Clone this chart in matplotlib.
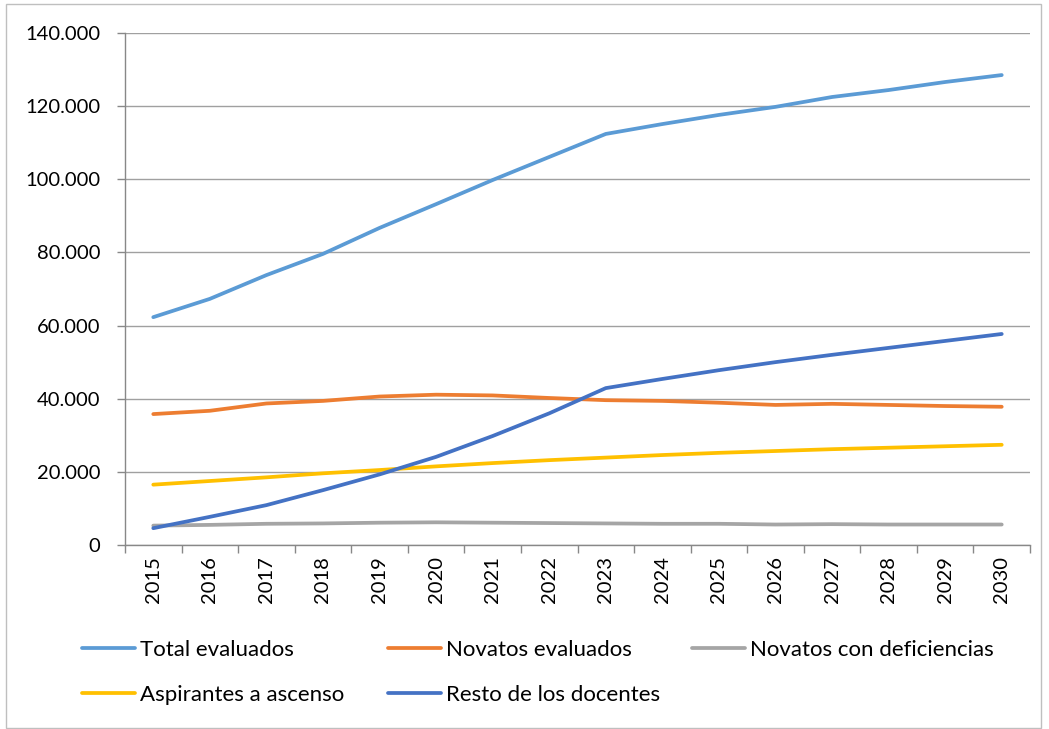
import matplotlib.pyplot as plt
from matplotlib.patches import Rectangle
from matplotlib.ticker import FuncFormatter, FixedLocator

plt.rcParams['font.family'] = ['Lato', 'DejaVu Sans']

years = [str(y) for y in range(2015, 2031)]

total_evaluados = [62300, 67300, 73800, 79600, 86700, 93200, 99800, 106100,
                   112400, 115100, 117600, 119800, 122500, 124400, 126600, 128500]
novatos_evaluados = [35800, 36700, 38700, 39400, 40600, 41100, 40900, 40200,
                     39600, 39400, 38900, 38300, 38600, 38300, 38000, 37800]
novatos_deficiencias = [5300, 5500, 5800, 5900, 6100, 6200, 6100, 6000,
                        5900, 5800, 5800, 5600, 5700, 5600, 5600, 5600]
aspirantes_ascenso = [16500, 17500, 18500, 19600, 20500, 21500, 22400, 23200,
                      23900, 24600, 25200, 25700, 26200, 26600, 27000, 27400]
resto_docentes = [4600, 7700, 10900, 15000, 19300, 24100, 29800, 36000,
                  42900, 45400, 47800, 50000, 52000, 53900, 55800, 57700]

series = [
    ("Total evaluados", total_evaluados, "#5B9BD5"),
    ("Novatos evaluados", novatos_evaluados, "#ED7D31"),
    ("Novatos con deficiencias", novatos_deficiencias, "#A5A5A5"),
    ("Aspirantes a ascenso", aspirantes_ascenso, "#FFC000"),
    ("Resto de los docentes", resto_docentes, "#4472C4"),
]

fig = plt.figure(figsize=(10.49, 7.29), dpi=100)
ax = fig.add_axes([125 / 1049, 1 - 545 / 729, 905 / 1049, 512 / 729])

x = list(range(len(years)))
lines = {}
for name, vals, color in series:
    ln, = ax.plot(x, vals, color=color, lw=2.7, solid_capstyle='round', label=name)
    lines[name] = ln

ax.set_xlim(-0.5, len(years) - 0.5)
ax.set_ylim(0, 140000)
ax.set_yticks(range(0, 140001, 20000))
ax.yaxis.set_major_formatter(FuncFormatter(lambda v, p: f"{int(v):,}".replace(",", ".")))
ax.set_xticks(x)
ax.set_xticklabels(years, rotation=90)
ax.xaxis.set_minor_locator(FixedLocator([i - 0.5 for i in range(len(years) + 1)]))
ax.tick_params(axis='x', which='major', length=0, labelsize=14.5, pad=8)
ax.tick_params(axis='x', which='minor', length=6, color='#888888', width=1)
ax.tick_params(axis='y', length=6, color='#888888', width=1, labelsize=14.5, pad=12)

ax.grid(axis='y', color='#A0A0A0', lw=1)
ax.set_axisbelow(True)
for s in ['top', 'right']:
    ax.spines[s].set_visible(False)
for s in ['left', 'bottom']:
    ax.spines[s].set_color('#888888')
    ax.spines[s].set_linewidth(1)

# legend: three columns placed like the original
legend_cols = [
    (82, ["Total evaluados", "Aspirantes a ascenso"]),
    (388, ["Novatos evaluados", "Resto de los docentes"]),
    (692, ["Novatos con deficiencias"]),
]
for xpix, names in legend_cols:
    fig.legend([lines[n] for n in names], names, frameon=False,
               loc='upper left', bbox_to_anchor=(xpix / 1049, 1 - 640 / 729),
               fontsize=16, handlelength=2.4, handletextpad=0.2,
               labelspacing=1.13, borderpad=0, borderaxespad=0)

fig.patches.append(Rectangle((6 / 1049, 1 / 729), 1035 / 1049, 724 / 729,
                             transform=fig.transFigure, fill=False,
                             edgecolor='#BFBFBF', lw=1))

fig.savefig("out.png", dpi=100)
